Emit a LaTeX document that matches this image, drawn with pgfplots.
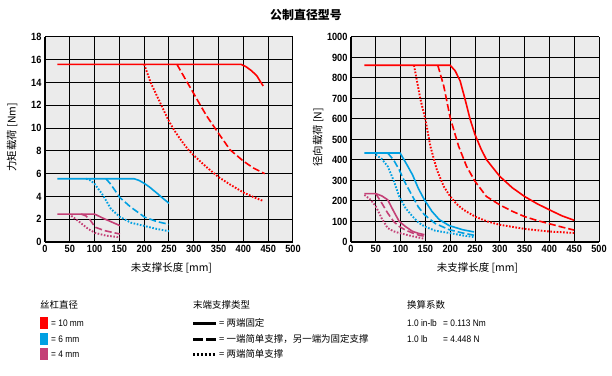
\documentclass[border=0pt]{standalone}
\usepackage{pgfplots}
\pgfplotsset{compat=1.18}
\usepackage{fontspec}
\setmainfont{Liberation Sans}[FakeStretch=0.88]
\newfontfamily\cjk{Noto Sans CJK SC}
\definecolor{cred}{RGB}{255,0,0}
\definecolor{cblue}{RGB}{0,160,226}
\definecolor{cmag}{RGB}{196,64,118}
\definecolor{bg}{RGB}{235,235,235}
\pgfplotsset{
  myax/.style={scale only axis, width=248bp, height=205bp,
    xmin=0, xmax=500, ymin=0, xtick={0,50,...,500},
    grid=major, major grid style={black, line width=1bp},
    axis background/.style={fill=bg},
    axis lines*=left, axis line style={black, line width=2bp},
    major tick length=0pt,
    tick label style={font=\bfseries\fontsize{10.5}{12}\selectfont},
    /pgf/number format/assume math mode=true,
    /pgf/number format/1000 sep={},
    anchor=south west, clip=false,
    label style={font=\cjk\fontsize{10.5}{12}\selectfont},
    xlabel style={at={(axis description cs:0.51,-0.125)}, anchor=center},
    ylabel style={at={(axis description cs:-0.133,0.51)}, anchor=center, rotate=0},
  },
  s1/.style={line width=1.6bp, line join=round},
  s2/.style={line width=1.6bp, dash pattern=on 7bp off 3bp, line join=round},
  s3/.style={line width=1.9bp, dash pattern=on 1.6bp off 1.6bp},
}
\begin{document}
\begin{tikzpicture}
\path[use as bounding box] (0bp,0bp) rectangle (612bp,376bp);
\node[font=\cjk\bfseries\fontsize{12}{14}\selectfont] at (306bp,361bp) {公制直径型号};

\begin{axis}[myax, at={(45bp,134bp)}, ymax=18, ytick={0,2,...,18},
  xlabel={未支撑长度 [mm]}, ylabel={力矩载荷 [Nm]}]
\addplot[cred,s1] coordinates {(25,15.6)(395,15.6)(405,15.4)(416,15.05)(427,14.6)(434,14.1)(440,13.7)};
\addplot[cred,s2] coordinates {(266,15.6)(283,14.3)(299,13.1)(316,11.8)(327,11.0)(349,9.6)(373,8.1)(400,7.1)(420,6.5)(443,6.0)};
\addplot[cred,s3] coordinates {(200,15.6)(213,14.0)(226,12.8)(239,11.6)(250,10.6)(260,9.85)(270,9.2)(280,8.6)(290,8.05)(300,7.6)(325,6.6)(350,5.7)(373,5.05)(400,4.35)(420,3.95)(440,3.6)};
\addplot[cblue,s1] coordinates {(25,5.55)(180,5.55)(190,5.4)(200,5.15)(210,4.85)(227,4.24)(240,3.75)(250,3.4)};
\addplot[cblue,s2] coordinates {(123,5.55)(132,5.1)(140,4.6)(151,3.9)(173,3.06)(201,2.18)(225,1.8)(250,1.55)};
\addplot[cblue,s3] coordinates {(83,5.55)(92,5.4)(100,5.1)(117,4.1)(133,2.9)(151,2.2)(173,1.7)(201,1.4)(225,1.15)(250,0.95)};
\addplot[cmag,s1] coordinates {(25,2.45)(100,2.45)(120,2.03)(151,1.44)};
\addplot[cmag,s2] coordinates {(73,2.45)(82,2.3)(90,2.0)(101,1.3)(120,1.0)(151,0.7)};
\addplot[cmag,s3] coordinates {(53,2.3)(70,1.74)(87,1.15)(101,0.8)(123,0.56)(151,0.41)};
\end{axis}

\begin{axis}[myax, at={(351bp,134bp)}, ymax=1000, ytick={0,100,...,1000},
  xlabel={未支撑长度 [mm]}, ylabel={径向载荷 [N]}]
\addplot[cred,s1] coordinates {(27,862)(200,862)(210,835)(220,786)(230,696)(240,600)(250,524)(262,455)(273,402)(300,320)(325,265)(350,222)(375,187)(400,157)(425,128)(450,106)};
\addplot[cred,s2] coordinates {(175,862)(187,761)(200,606)(217,467)(233,369)(250,296)(273,222)(300,181)(325,150)(350,124)(375,105)(400,89)(425,73)(450,58)};
\addplot[cred,s3] coordinates {(127,862)(140,696)(150,598)(160,467)(173,353)(187,271)(200,222)(213,185)(227,157)(250,124)(275,100)(300,84)(350,64)(400,51)(450,44)};
\addplot[cblue,s1] coordinates {(27,434)(99,434)(112,380)(124,328)(136,260)(148,206)(163,150)(178,109)(198,80)(225,60)(248,49)};
\addplot[cblue,s2] coordinates {(74,434)(86,400)(97,353)(110,285)(124,223)(136,170)(148,133)(170,90)(198,60)(225,44)(248,33)};
\addplot[cblue,s3] coordinates {(50,426)(62,405)(74,369)(86,300)(97,223)(110,165)(124,125)(136,95)(148,76)(170,55)(198,44)(225,32)(248,24)};
\addplot[cmag,s1] coordinates {(27,236)(50,236)(62,225)(74,206)(86,150)(97,101)(110,75)(124,52)(136,42)(148,36)};
\addplot[cmag,s2] coordinates {(50,236)(62,190)(74,141)(86,100)(97,76)(110,58)(124,44)(136,34)(148,28)};
\addplot[cmag,s3] coordinates {(27,230)(40,205)(50,174)(62,115)(74,68)(86,52)(97,44)(124,28)(148,16)};
\end{axis}

% legend
\begin{scope}[x=1bp, y=1bp, every node/.style={anchor=west, inner sep=0pt, font=\cjk\fontsize{9.5}{11}\selectfont}]
\node at (40,71) {丝杠直径};
\fill[cred] (40,47) rectangle (48,59);
\fill[cblue] (40,31) rectangle (48,43);
\fill[cmag] (40,16) rectangle (48,28);
\node[font=\fontsize{9.5}{11}\selectfont] at (51,53) {= 10 mm};
\node[font=\fontsize{9.5}{11}\selectfont] at (51,37) {= 6 mm};
\node[font=\fontsize{9.5}{11}\selectfont] at (51,22) {= 4 mm};

\node at (193,71) {末端支撑类型};
\draw[line width=3bp] (193,52) -- (216,52);
\draw[line width=3bp, dash pattern=on 10bp off 3bp] (193,36) -- (216,36);
\draw[line width=3bp, dash pattern=on 2.4bp off 1.5bp] (193,21) -- (216,21);
\node at (219,53) {= 两端固定};
\node at (219,37) {= 一端简单支撑，另一端为固定支撑};
\node at (219,22) {= 两端简单支撑};

\node at (407,71) {换算系数};
\node[font=\fontsize{9.5}{11}\selectfont] at (407,53) {1.0 in-lb};
\node[font=\fontsize{9.5}{11}\selectfont] at (443,53) {= 0.113 Nm};
\node[font=\fontsize{9.5}{11}\selectfont] at (407,37) {1.0 lb};
\node[font=\fontsize{9.5}{11}\selectfont] at (443,37) {= 4.448 N};
\end{scope}
\end{tikzpicture}
\end{document}
